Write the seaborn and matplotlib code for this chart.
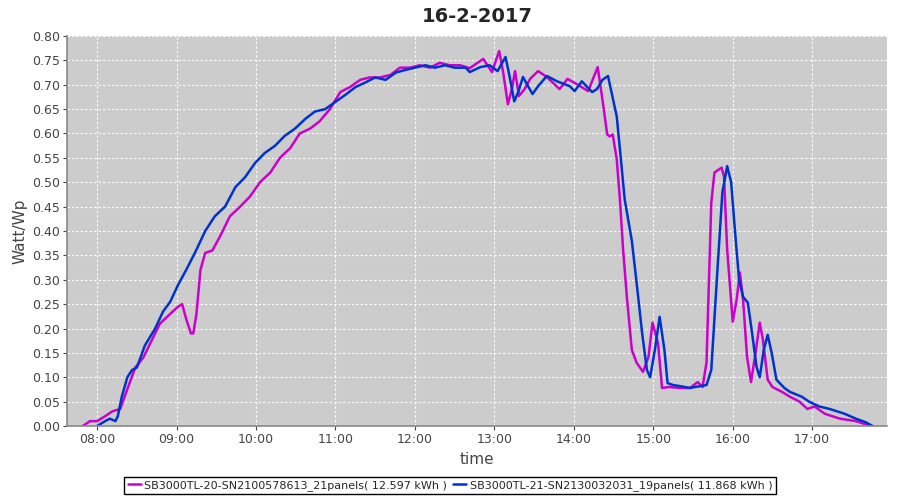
import pandas as pd
import matplotlib.pyplot as plt
import seaborn as sns

# Readings taken off the chart: time in decimal hours, yield in Watt/Wp
t_sn2100 = [7.82, 7.91, 8.0, 8.1, 8.19, 8.29, 8.39, 8.48, 8.58, 8.67, 8.79, 8.92, 9.02, 9.07,
            9.12, 9.18, 9.21, 9.25, 9.3, 9.36, 9.45, 9.55, 9.67, 9.8, 9.92, 10.05, 10.18, 10.3,
            10.43, 10.55, 10.68, 10.8, 10.93, 11.06, 11.18, 11.31, 11.43, 11.56, 11.69, 11.81,
            11.94, 12.06, 12.19, 12.31, 12.44, 12.57, 12.69, 12.86, 12.97, 13.06, 13.11, 13.17,
            13.22, 13.26, 13.31, 13.38, 13.45, 13.55, 13.66, 13.82, 13.92, 14.04, 14.18, 14.30,
            14.36, 14.42, 14.45, 14.49, 14.54, 14.58, 14.62, 14.67, 14.73, 14.79, 14.87, 14.94,
            14.99, 15.06, 15.11, 15.2, 15.33, 15.46, 15.56, 15.62, 15.67, 15.73, 15.77, 15.86,
            15.89, 15.93, 16.0, 16.05, 16.09, 16.13, 16.18, 16.23, 16.28, 16.34, 16.38, 16.44,
            16.50, 16.62, 16.72, 16.84, 16.94, 17.03, 17.16, 17.35, 17.55, 17.74]
w_sn2100 = [0.0, 0.01, 0.01, 0.02, 0.03, 0.035, 0.08, 0.12, 0.14, 0.17, 0.21, 0.23, 0.245, 0.25,
            0.22, 0.19, 0.19, 0.23, 0.32, 0.355, 0.36, 0.39, 0.43, 0.45, 0.47, 0.50, 0.52, 0.55,
            0.57, 0.60, 0.61, 0.625, 0.65, 0.685, 0.695, 0.71, 0.715, 0.715, 0.72, 0.735,
            0.735, 0.74, 0.735, 0.745, 0.74, 0.74, 0.734, 0.753, 0.726, 0.769, 0.726, 0.66,
            0.691, 0.728, 0.677, 0.691, 0.712, 0.728, 0.716, 0.691, 0.712, 0.701, 0.687, 0.736,
            0.67, 0.598, 0.594, 0.598, 0.547, 0.465, 0.362, 0.26, 0.156, 0.13, 0.111, 0.142,
            0.212, 0.17, 0.078, 0.08, 0.078, 0.078, 0.09, 0.08, 0.13, 0.458, 0.52, 0.53,
            0.512, 0.362, 0.214, 0.26, 0.315, 0.26, 0.142, 0.09, 0.142, 0.212, 0.177, 0.095,
            0.08, 0.07, 0.06, 0.05, 0.035, 0.04, 0.025, 0.015, 0.01, 0.0]

t_sn2130 = [8.0, 8.1, 8.16, 8.23, 8.26, 8.31, 8.38, 8.44, 8.5, 8.6, 8.73, 8.83, 8.92, 9.02,
            9.12, 9.23, 9.36, 9.48, 9.61, 9.74, 9.86, 9.99, 10.11, 10.24, 10.36, 10.49, 10.62,
            10.74, 10.87, 11.0, 11.13, 11.25, 11.38, 11.5, 11.63, 11.76, 11.87, 12.0, 12.13,
            12.25, 12.38, 12.5, 12.64, 12.69, 12.82, 12.94, 13.04, 13.14, 13.19, 13.25, 13.30,
            13.36, 13.41, 13.48, 13.55, 13.66, 13.79, 13.95, 14.01, 14.10, 14.23, 14.29, 14.36,
            14.43, 14.54, 14.58, 14.64, 14.73, 14.79, 14.86, 14.92, 14.96, 15.02, 15.08, 15.14,
            15.18, 15.25, 15.33, 15.46, 15.67, 15.73, 15.81, 15.87, 15.93, 15.98, 16.03, 16.08,
            16.13, 16.19, 16.25, 16.30, 16.34, 16.39, 16.44, 16.49, 16.55, 16.65, 16.72, 16.87,
            16.96, 17.09, 17.22, 17.41, 17.55, 17.67, 17.76]
w_sn2130 = [0.0, 0.01, 0.015, 0.01, 0.02, 0.06, 0.10, 0.115, 0.12, 0.165, 0.20, 0.235, 0.255, 0.29,
            0.32, 0.355, 0.40, 0.43, 0.45, 0.49, 0.51, 0.54, 0.56, 0.575, 0.595, 0.61, 0.63,
            0.645, 0.65, 0.665, 0.68, 0.695, 0.705, 0.715, 0.71, 0.725, 0.73, 0.735, 0.74,
            0.735, 0.74, 0.735, 0.735, 0.726, 0.736, 0.74, 0.728, 0.757, 0.718, 0.666, 0.685,
            0.716, 0.701, 0.681, 0.697, 0.718, 0.707, 0.697, 0.687, 0.707, 0.685, 0.691, 0.71,
            0.718, 0.635, 0.568, 0.465, 0.38, 0.294, 0.19, 0.115, 0.10, 0.156, 0.224, 0.156,
            0.088, 0.084, 0.082, 0.078, 0.084, 0.115, 0.327, 0.48, 0.533, 0.50, 0.397, 0.30,
            0.265, 0.253, 0.183, 0.121, 0.10, 0.156, 0.187, 0.15, 0.095, 0.078, 0.07, 0.06,
            0.05, 0.04, 0.035, 0.025, 0.015, 0.008, 0.0]

series_names = ["SB3000TL-20-SN2100578613_21panels( 12.597 kWh )",
                "SB3000TL-21-SN2130032031_19panels( 11.868 kWh )"]
hour_ticks = [8, 9, 10, 11, 12, 13, 14, 15, 16, 17]
hour_labels = ["08:00", "09:00", "10:00", "11:00", "12:00", "13:00", "14:00",
               "15:00", "16:00", "17:00"]
y_ticks = [i * 0.05 for i in range(17)]

df = pd.concat([
    pd.DataFrame({"time": t_sn2100, "Watt/Wp": w_sn2100, "inverter": series_names[0]}),
    pd.DataFrame({"time": t_sn2130, "Watt/Wp": w_sn2130, "inverter": series_names[1]}),
])

sns.set_theme(style="whitegrid")
plt.rcParams['font.family'] = ['DejaVu Sans']

fig = plt.figure(figsize=(9, 5), dpi=100)
ax = fig.add_axes([0.0744, 0.148, 0.911, 0.78])
ax.set_facecolor("#cccccc")

sns.lineplot(data=df, x="time", y="Watt/Wp", hue="inverter", sort=False,
             palette=["#cc00cc", "#0033cc"], linewidth=1.8, ax=ax, legend=True)

ax.set_xlim(7.62, 17.94)
ax.set_ylim(0, 0.80)
ax.set_xticks(hour_ticks)
ax.set_xticklabels(hour_labels)
ax.set_yticks(y_ticks)
ax.set_yticklabels([f"{v:.2f}" for v in y_ticks])
ax.grid(True, color="white", linestyle=(0, (2, 2)), linewidth=0.8)
ax.tick_params(axis="both", labelsize=9, colors="#444444", length=3, width=0.8,
               left=True, bottom=True, pad=2)
for side in ["top", "right"]:
    ax.spines[side].set_visible(False)
for side in ["left", "bottom"]:
    ax.spines[side].set_color("#888888")
    ax.spines[side].set_linewidth(1.2)

ax.set_xlabel("time", fontsize=11, color="#444444", labelpad=4)
ax.set_ylabel("Watt/Wp", fontsize=11, color="#444444", labelpad=3)
ax.set_title("16-2-2017", fontsize=14, fontweight="bold", pad=10)

handles, labels = ax.get_legend_handles_labels()
ax.get_legend().remove()
leg = fig.legend(handles, labels, loc="lower center", bbox_to_anchor=(0.5, 0.0),
                 ncol=2, fontsize=8, frameon=True, fancybox=False, edgecolor="black",
                 handlelength=1.2, handletextpad=0.3, columnspacing=0.5,
                 borderpad=0.3, framealpha=1)
leg.get_frame().set_linewidth(1.0)

fig.savefig("out.png", dpi=100)
